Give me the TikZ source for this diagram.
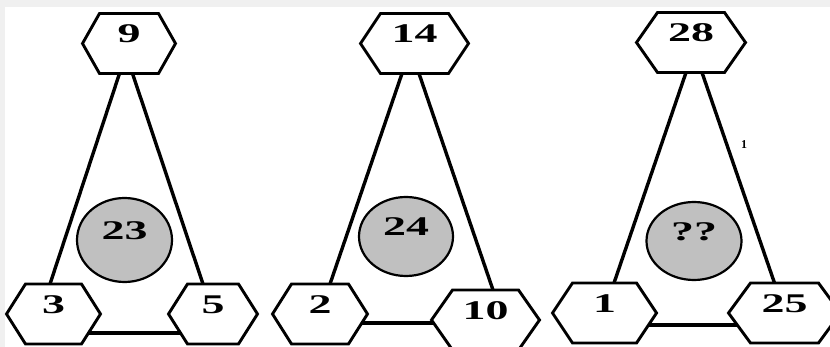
\documentclass[tikz,border=0pt]{standalone}
\usepackage{fontspec}
\setmainfont{Liberation Serif}
\usetikzlibrary{shapes.geometric}
\definecolor{pagegray}{RGB}{240,240,240}
\definecolor{discgray}{RGB}{192,192,192}
\newcommand{\widetxt}[1]{\scalebox{1.7}[1]{#1}}
\pgfdeclarelayer{bglayer}
\pgfdeclarelayer{midlayer}
\pgfsetlayers{bglayer,midlayer,main}
\newcommand{\hexoutline}[2]{%
  \filldraw[hexline] (#1.west) -- ([xshift=#2]#1.north west) -- ([xshift=-#2]#1.north east)
    -- (#1.east) -- ([xshift=-#2]#1.south east) -- ([xshift=#2]#1.south west) -- cycle;}
\begin{document}
\begin{tikzpicture}[x=1pt,y=-1pt,
  hexnode/.style={rectangle, minimum height=60pt, inner sep=0pt, outer sep=0pt,
    font=\bfseries\fontsize{27}{27}\selectfont, text height=20pt, text depth=21pt},
  hexline/.style={draw=black, fill=white, line width=2.9pt, line join=miter},
  disc/.style={ellipse, draw=black, line width=2.2pt, fill=discgray,
    inner sep=0pt, outer sep=0pt,
    font=\bfseries\fontsize{27}{27}\selectfont, text height=20pt, text depth=21pt},
  link/.style={line width=3.4pt, draw=black}]
\useasboundingbox (0,0) rectangle (830,347);
% hexagon nodes (text)
\node[hexnode, minimum width=93pt]  (t1) at (129,43.5) {\widetxt{9}};
\node[hexnode, minimum width=94pt]  (l1) at (53.5,314) {\widetxt{3}};
\node[hexnode, minimum width=89pt]  (r1) at (213,314) {\widetxt{5}};
\node[hexnode, minimum width=108pt] (t2) at (414.5,43.5) {\widetxt{14}};
\node[hexnode, minimum width=95pt]  (l2) at (320,314) {\widetxt{2}};
\node[hexnode, minimum width=108pt] (r2) at (485.5,320) {\widetxt{10}};
\node[hexnode, minimum width=109pt] (t3) at (691,42.5) {\widetxt{28}};
\node[hexnode, minimum width=104pt] (l3) at (604.5,313) {\widetxt{1}};
\node[hexnode, minimum width=112pt] (r3) at (784.5,313) {\widetxt{25}};
% discs
\node[disc, minimum width=95pt, minimum height=84pt] (c1) at (124.5,240) {\widetxt{23}};
\node[disc, minimum width=94pt, minimum height=79pt] (c2) at (406,236.5) {\widetxt{24}};
\node[disc, minimum width=95pt, minimum height=78pt] (c3) at (694,241) {\widetxt{??}};
% small mark
\node[font=\bfseries\fontsize{12}{12}\selectfont, inner sep=0pt] (note1) at (744,145) {1};
% hexagon outlines
\begin{pgfonlayer}{midlayer}
  \hexoutline{t1}{17pt}
  \hexoutline{l1}{19pt}
  \hexoutline{r1}{19pt}
  \hexoutline{t2}{20pt}
  \hexoutline{l2}{19pt}
  \hexoutline{r2}{21pt}
  \hexoutline{t3}{21pt}
  \hexoutline{l3}{20pt}
  \hexoutline{r3}{22pt}
\end{pgfonlayer}
% background and connectors
\begin{pgfonlayer}{bglayer}
  \fill[pagegray] (0,0) rectangle (830,347);
  \fill[white] (5,7) rectangle (830,347);
  \draw[link] ([xshift=-9.5pt]t1.south) -- ([xshift=-3.5pt]l1.north);
  \draw[link] ([xshift=3.5pt]t1.south) -- ([xshift=-10pt]r1.north);
  \draw[link] ([yshift=-19pt]l1.center) -- ([yshift=-19pt]r1.center);
  \draw[link] ([xshift=-12.5pt]t2.south) -- ([xshift=10pt]l2.north);
  \draw[link] ([xshift=4.5pt]t2.south) -- ([xshift=7.5pt]r2.north);
  \draw[link] ([yshift=-9pt]l2.center) -- ([yshift=-3pt]r2.center);
  \draw[link] ([xshift=-5pt]t3.south) -- ([xshift=9.5pt]l3.north);
  \draw[link] ([xshift=11pt]t3.south) -- ([xshift=-10pt]r3.north);
  \draw[link] ([yshift=-12pt]l3.center) -- ([yshift=-12pt]r3.center);
\end{pgfonlayer}
\end{tikzpicture}
\end{document}
